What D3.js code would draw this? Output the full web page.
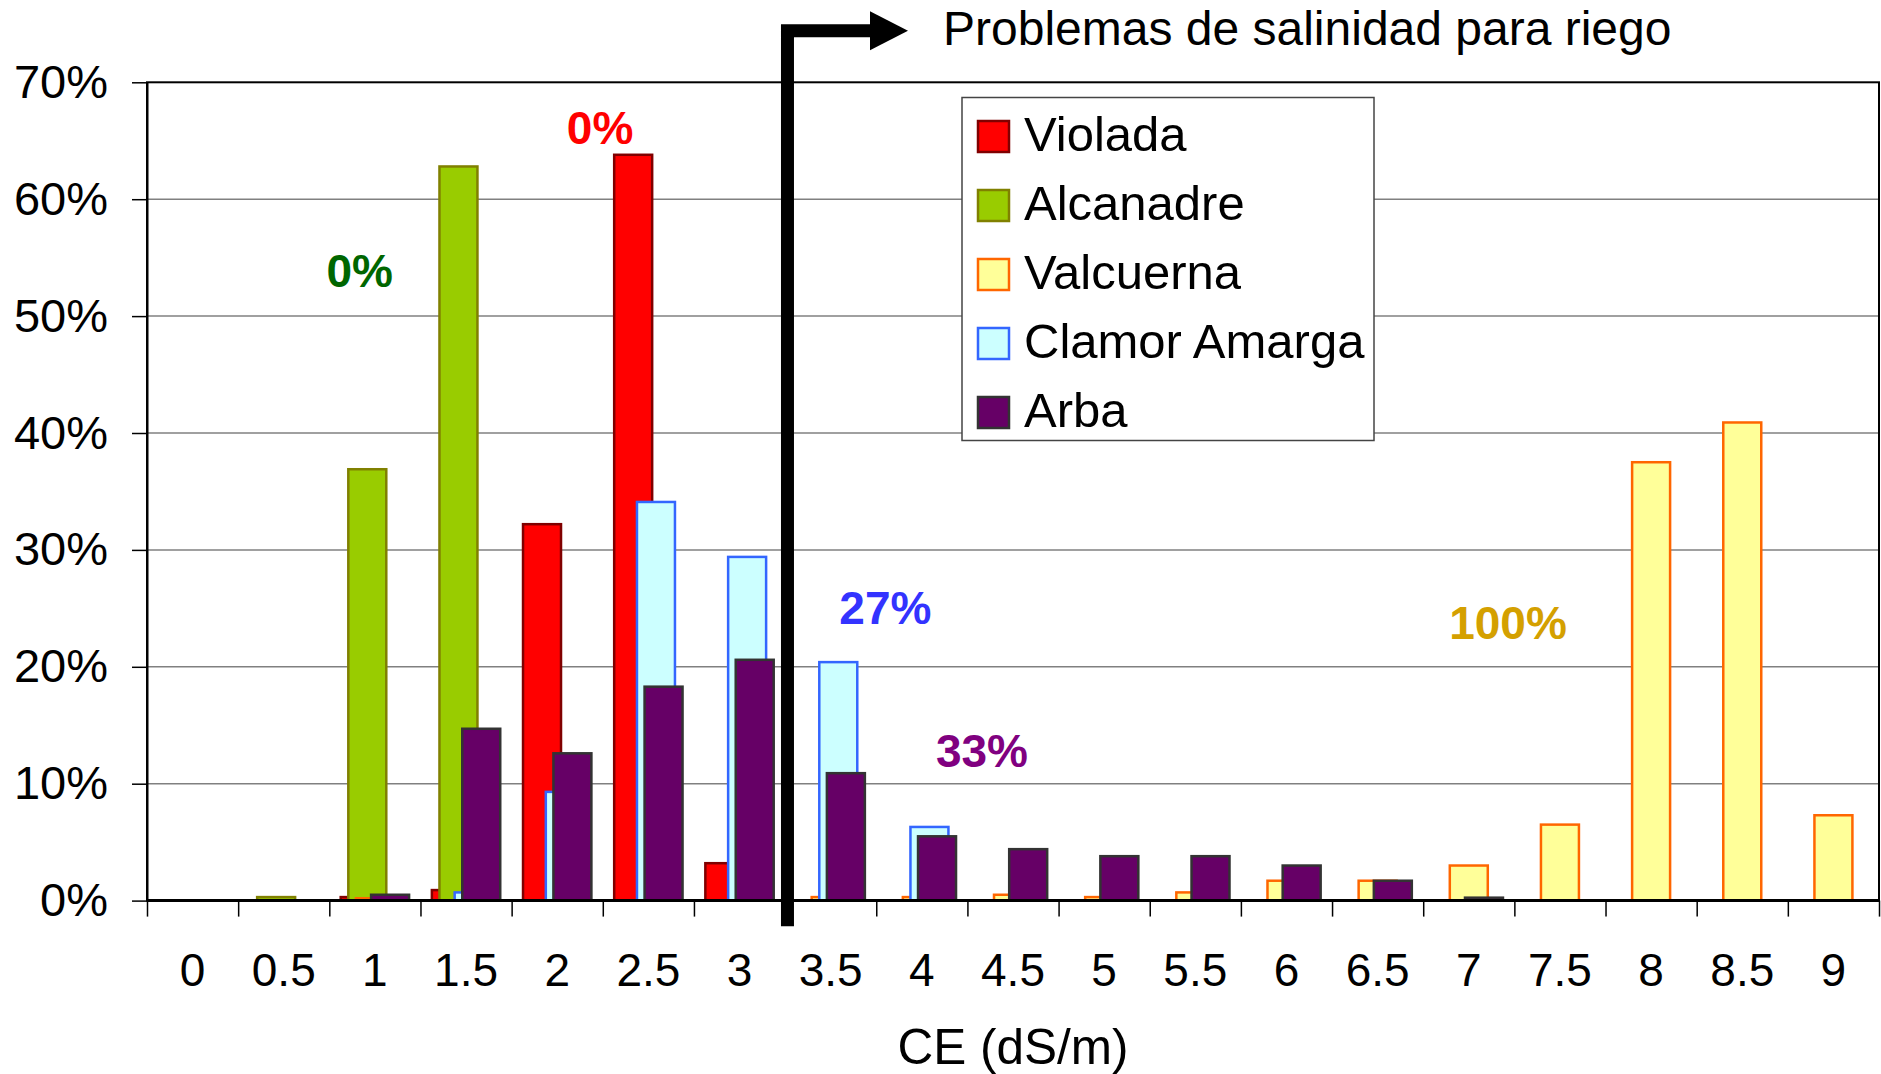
<!DOCTYPE html>
<html>
<head>
<meta charset="utf-8">
<script src="https://cdn.jsdelivr.net/npm/d3@7"></script>
<style>
  html, body { margin: 0; padding: 0; background: #fff; }
  svg { display: block; font-family: "Liberation Sans", Arial, sans-serif; }
</style>
</head>
<body>
<div id="main"></div>
<script>
// CE classes (dS/m)
const categories = ['0','0.5','1','1.5','2','2.5','3','3.5','4','4.5','5','5.5','6','6.5','7','7.5','8','8.5','9'];

// % of samples per CE class, one array per river
const violada      = [0, 0,   0.3, 0.9, 32.2, 63.8, 3.2, 0,    0,   0,   0,   0,   0,   0,   0,    0,   0,    0,    0  ];
const alcanadre    = [0, 0.3, 36.9,62.8, 0,    0,    0,   0,    0,   0,   0,   0,   0,   0,   0,    0,   0,    0,    0  ];
const valcuerna    = [0, 0,   0.2, 0,   0,    0,    0,   0.3,  0.3, 0.5, 0.3, 0.7, 1.7, 1.7, 3.0,  6.5, 37.5, 40.9, 7.3];
const clamorAmarga = [0, 0,   0,   0.7, 9.3,  34.1, 29.4,20.4, 6.3, 0,   0,   0,   0,   0,   0,    0,   0,    0,    0  ];
const arba         = [0, 0,   0.5, 14.7,12.6, 18.3, 20.6,10.9, 5.5, 4.4, 3.8, 3.8, 3.0, 1.7, 0.25, 0,   0,    0,    0  ];

const seriesNames = ['Violada', 'Alcanadre', 'Valcuerna', 'Clamor Amarga', 'Arba'];
const seriesValues = [violada, alcanadre, valcuerna, clamorAmarga, arba];

const yTicks = [0, 10, 20, 30, 40, 50, 60, 70];

// share of samples above the irrigation salinity threshold (label, series, CE pos, % pos)
const notes = [
  ['0%',   'Alcanadre',     0.917, 52.5 ],
  ['0%',   'Violada',       2.235, 64.7 ],
  ['27%',  'Clamor Amarga', 3.80,  23.7 ],
  ['33%',  'Arba',          4.33,  11.45],
  ['100%', 'Valcuerna',     7.215, 22.4 ]
];
const thresholdCE = 3.263;
const thresholdTitle = 'Problemas de salinidad para riego';
const xTitle = 'CE (dS/m)';

document.addEventListener('DOMContentLoaded', () => {
  const width = 1881, height = 1074;
  const plot = { left: 147, right: 1879, top: 82.3, bottom: 900.6 };

  const fills   = { 'Violada': '#ff0000', 'Alcanadre': '#99cc00', 'Valcuerna': '#ffff99', 'Clamor Amarga': '#ccffff', 'Arba': '#660066' };
  const strokes = { 'Violada': '#800000', 'Alcanadre': '#808000', 'Valcuerna': '#ff6600', 'Clamor Amarga': '#3366ff', 'Arba': '#333333' };
  const noteColors = { 'Violada': '#ff0000', 'Alcanadre': '#006600', 'Valcuerna': '#d4a000', 'Clamor Amarga': '#3333ff', 'Arba': '#800080' };

  const x = d3.scaleBand().domain(categories).range([plot.left, plot.right]).padding(0);
  const bw = x.bandwidth();
  // excel-like: gap width 60%, overlap 80%
  const barW = bw / 2.4, step = barW * 0.2, pad = barW * 0.3;
  const xs = d3.scaleLinear().domain([0, seriesNames.length - 1]).range([pad, pad + step * (seriesNames.length - 1)]);
  const xl = d3.scaleLinear().domain([0, 9]).range([x('0') + bw / 2, x('9') + bw / 2]);
  const y = d3.scaleLinear().domain([0, 70]).range([plot.bottom, plot.top]);

  const svg = d3.select('#main').append('svg')
    .attr('viewBox', [0, 0, width, height])
    .attr('width', width).attr('height', height);

  // gridlines
  svg.append('g').selectAll('line').data(yTicks.filter(d => d > 0 && d < 70)).join('line')
    .attr('x1', plot.left).attr('x2', plot.right)
    .attr('y1', d => y(d)).attr('y2', d => y(d))
    .attr('stroke', '#808080').attr('stroke-width', 1.5);

  // bars, drawn in series order so later ones sit on top
  seriesNames.forEach((name, si) => {
    const vals = seriesValues[si].map((v, i) => [categories[i], v]).filter(d => d[1] > 0);
    svg.append('g').selectAll('rect').data(vals).join('rect')
      .attr('x', d => x(d[0]) + xs(si))
      .attr('width', barW)
      .attr('y', d => y(d[1]))
      .attr('height', d => y(0) - y(d[1]))
      .attr('fill', fills[name])
      .attr('stroke', strokes[name])
      .attr('stroke-width', 2.5);
  });

  // frame
  svg.append('rect')
    .attr('x', plot.left).attr('y', plot.top)
    .attr('width', plot.right - plot.left).attr('height', plot.bottom - plot.top)
    .attr('fill', 'none').attr('stroke', '#000').attr('stroke-width', 2);

  // y axis
  const ay = svg.append('g').attr('transform', `translate(${plot.left},0)`)
    .call(d3.axisLeft(y).tickValues(yTicks).tickFormat(d => d + '%').tickSize(15).tickSizeOuter(0).tickPadding(24));
  ay.select('.domain').attr('stroke', '#000').attr('stroke-width', 2);
  ay.selectAll('.tick line').attr('stroke', '#000').attr('stroke-width', 1.5);
  ay.selectAll('text').attr('font-size', 47).attr('font-family', null).attr('fill', '#000');

  // x axis: ticks on class boundaries, labels in the middle
  const xb = d3.scaleLinear().domain([0, categories.length]).range([plot.left, plot.right]);
  const axb = svg.append('g').attr('transform', `translate(0,${plot.bottom})`)
    .call(d3.axisBottom(xb).ticks(categories.length).tickFormat('').tickSize(16).tickSizeOuter(0));
  axb.select('.domain').remove();
  axb.selectAll('.tick line').attr('stroke', '#000').attr('stroke-width', 1.5);

  const ax = svg.append('g').attr('transform', `translate(0,${plot.bottom})`)
    .call(d3.axisBottom(x).tickSize(0).tickPadding(53));
  ax.select('.domain').remove();
  ax.selectAll('text').attr('font-size', 46).attr('font-family', null).attr('fill', '#000');

  svg.append('line')
    .attr('x1', plot.left).attr('x2', plot.right)
    .attr('y1', plot.bottom).attr('y2', plot.bottom)
    .attr('stroke', '#000').attr('stroke-width', 3);

  svg.append('text')
    .attr('x', (plot.left + plot.right) / 2).attr('y', 1064)
    .attr('text-anchor', 'middle').attr('font-size', 49.5)
    .text(xTitle);

  // annotations
  svg.append('g').selectAll('text').data(notes).join('text')
    .attr('x', d => xl(d[2])).attr('y', d => y(d[3]))
    .attr('text-anchor', 'middle').attr('font-size', 46).attr('font-weight', 'bold')
    .attr('fill', d => noteColors[d[1]])
    .text(d => d[0]);

  // legend
  const lg = svg.append('g').attr('transform', 'translate(962,97.5)');
  lg.append('rect').attr('width', 412).attr('height', 343)
    .attr('fill', '#fff').attr('stroke', '#444').attr('stroke-width', 1.5);
  const li = lg.selectAll('g').data(seriesNames).join('g')
    .attr('transform', (d, i) => `translate(16,${23.5 + i * 69})`);
  li.append('rect').attr('width', 31).attr('height', 31)
    .attr('fill', d => fills[d]).attr('stroke', d => strokes[d]).attr('stroke-width', 2.5);
  li.append('text').attr('x', 46).attr('y', 30).attr('font-size', 49).text(d => d);

  // salinity threshold arrow
  const ax0 = xl(thresholdCE), ayTop = y(74.4), ayBot = y(-2.2), axEnd = xl(3.924);
  svg.append('path')
    .attr('d', `M${ax0},${ayBot}V${ayTop}H${axEnd - 36}`)
    .attr('fill', 'none').attr('stroke', '#000').attr('stroke-width', 13)
    .attr('stroke-linejoin', 'miter');
  svg.append('path')
    .attr('d', `M${axEnd - 38},${ayTop - 19.5}L${axEnd},${ayTop}L${axEnd - 38},${ayTop + 19.5}Z`)
    .attr('fill', '#000');
  svg.append('text')
    .attr('x', 943).attr('y', 45).attr('font-size', 48)
    .text(thresholdTitle);
});
</script>
</body>
</html>
